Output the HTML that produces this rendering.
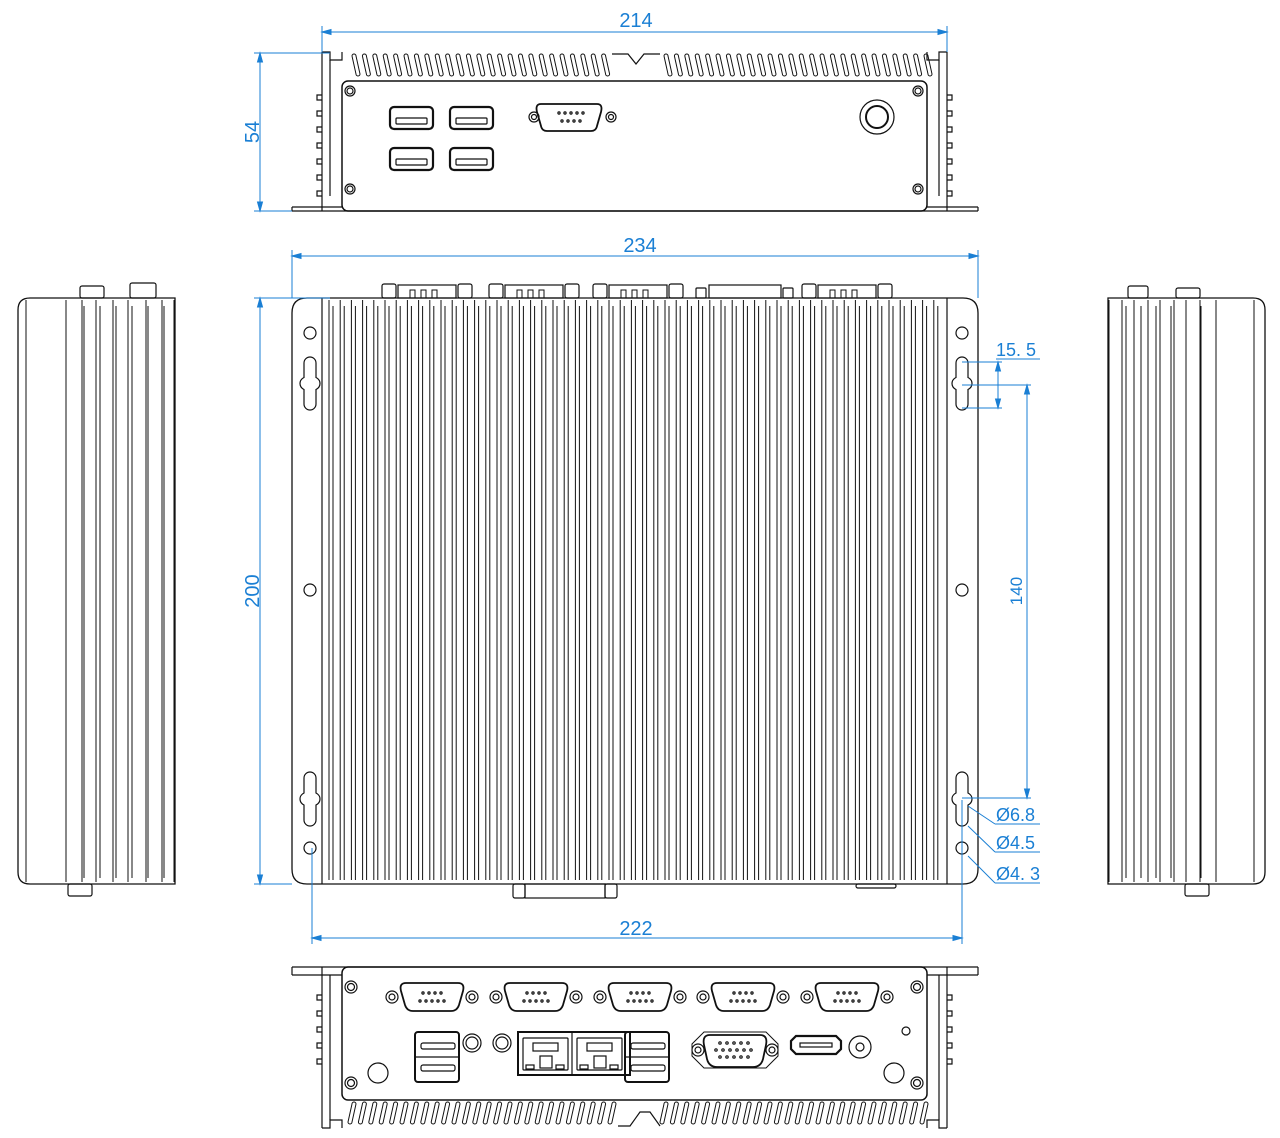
<!DOCTYPE html>
<html><head><meta charset="utf-8">
<style>
html,body{margin:0;padding:0;background:#fff;}
svg{display:block}
text{font-family:"Liberation Sans",sans-serif;fill:#1a7fd4;}
</style></head>
<body>
<svg id="s" width="1280" height="1138" viewBox="0 0 1280 1138" xmlns="http://www.w3.org/2000/svg">
<g id="k" fill="none" stroke="#111" stroke-width="1.2"></g>
<g id="b" fill="none" stroke="#1a7fd4" stroke-width="1"></g>
<g id="t" font-size="20">
<text x="636" y="27" text-anchor="middle">214</text>
<text x="640" y="252" text-anchor="middle">234</text>
<text x="636" y="935" text-anchor="middle">222</text>
<text transform="translate(259,132) rotate(-90)" text-anchor="middle">54</text>
<text transform="translate(259,591) rotate(-90)" text-anchor="middle">200</text>
<text transform="translate(1022,591) rotate(-90)" text-anchor="middle" font-size="17">140</text>
<text x="996" y="356" font-size="18">15. 5</text>
<text x="996" y="821" font-size="18">Ø6.8</text>
<text x="996" y="849" font-size="18">Ø4.5</text>
<text x="996" y="880" font-size="18">Ø4. 3</text>
</g>
</svg>
<script>
var K=document.getElementById('k'),B=document.getElementById('b'),NS='http://www.w3.org/2000/svg';
function el(g,n,a){var e=document.createElementNS(NS,n);for(var k in a)e.setAttribute(k,a[k]);g.appendChild(e);return e;}
function L(g,x1,y1,x2,y2,w){var e=el(g,'line',{x1:x1,y1:y1,x2:x2,y2:y2});if(w)e.setAttribute('stroke-width',w);}
function R(x,y,w,h,r,sw){var e=el(K,'rect',{x:x,y:y,width:w,height:h,rx:r||0});if(sw)e.setAttribute('stroke-width',sw);return e;}
function C(x,y,r,g){return el(g||K,'circle',{cx:x,cy:y,r:r});}
function P(d,g,sw){var e=el(g||K,'path',{d:d});if(sw)e.setAttribute('stroke-width',sw);return e;}
function arrow(x,y,dir){var s=9,w=2.5,d;
 if(dir=='l')d='M'+x+','+y+'l'+s+','+(-w)+'v'+(2*w)+'z';
 if(dir=='r')d='M'+x+','+y+'l'+(-s)+','+(-w)+'v'+(2*w)+'z';
 if(dir=='u')d='M'+x+','+y+'l'+(-w)+','+s+'h'+(2*w)+'z';
 if(dir=='d')d='M'+x+','+y+'l'+(-w)+','+(-s)+'h'+(2*w)+'z';
 var e=el(B,'path',{d:d});e.setAttribute('fill','#1a7fd4');}
// ===== Dimensions =====
L(B,322,32,947,32);arrow(322,32,'l');arrow(947,32,'r');L(B,322,26,322,52);L(B,947,26,947,52);
L(B,260,53,260,211);arrow(260,53,'u');arrow(260,211,'d');L(B,254,53,330,53);L(B,254,211,292,211);
L(B,292,256,978,256);arrow(292,256,'l');arrow(978,256,'r');L(B,292,250,292,298);L(B,978,250,978,298);
L(B,260,298,260,884);arrow(260,298,'u');arrow(260,884,'d');L(B,254,298,330,298);L(B,254,884,292,884);
L(B,312,938,962,938);arrow(312,938,'l');arrow(962,938,'r');L(B,312,848,312,944);L(B,962,800,962,944);
L(B,1027,385,1027,798);arrow(1027,385,'u');arrow(1027,798,'d');L(B,962,385,1031,385);L(B,962,798,1031,798);
L(B,998,362,998,408);arrow(998,362,'u');arrow(998,408,'d');L(B,962,362,1002,362);L(B,962,408,1002,408);
L(B,996,359,1040,359);
L(B,995,824,1040,824);L(B,995,824,968,806);
L(B,995,852,1040,852);L(B,995,852,968,826);
L(B,995,883,1040,883);L(B,995,883,968,856);
// ===== Top view =====
R(342,81,585,130,6,1.5);
L(K,322,52,322,211);L(K,947,52,947,211);
L(K,330,60,330,196);L(K,939,60,939,196);
P('M322,52 h8 v8 h12 v-8');P('M947,52 h-8 v8 h-12 v-8');
P('M612,54 L628,54 L636,64 L644,54 L660,54');
for(var x=352;x<925;x+=10.4){if(x>608&&x<660)continue;P('M'+x+',56 l4,18 a2,2 0 0 0 4,0 l-4,-18 a2,2 0 0 0 -4,0',K,1);}
for(var y=95;y<195;y+=16){P('M322,'+y+'h-5v5h5');P('M947,'+y+'h5v5h-5');}
L(K,292,207,342,207);L(K,292,211,978,211);L(K,292,207,292,211);L(K,927,207,978,207);L(K,978,207,978,211);
[[350,91],[350,189],[918,91],[918,189]].forEach(function(p){C(p[0],p[1],5);C(p[0],p[1],3);});
[[390,107],[450,107],[390,148],[450,148]].forEach(function(p){R(p[0],p[1],43,22,4,2.2);R(p[0]+6,p[1]+11,31,6,1);});
P('M541,104 h56 q6,0 4,8 l-4,14 q-1,5 -6,5 h-44 q-5,0 -6,-5 l-4,-14 q-2,-8 4,-8z',K,1.8);
C(534,117,5);C(534,117,2.5);C(611,117,5);C(611,117,2.5);
for(var i=0;i<5;i++)C(559+i*6,113,1.1);for(var i=0;i<4;i++)C(562+i*6,121,1.1);
C(877,117,17);C(877,117,11,K).setAttribute('stroke-width',2);
// ===== Main (plan) view =====
P('M307,298 H963 Q978,298 978,313 V869 Q978,884 963,884 H307 Q292,884 292,869 V313 Q292,298 307,298Z',K,1.3);
L(K,322,298,322,884);L(K,947,298,947,884);
for(var x=329;x<942;x+=11.2){L(K,x,300,x,880,1);L(K,x+4,306,x+4,880,1);}
function keyhole(cx,y1,y2){var m=(y1+y2)/2;P('M'+(cx-6)+','+(y1+8)+' a6,6 0 0 1 12,0 v'+(m-y1-14)+' q4,2 4,6 q0,4 -4,6 v'+(y2-m-14)+' a6,6 0 0 1 -12,0 v'+(-(y2-m-14))+' q-4,-2 -4,-6 q0,-4 4,-6z');}
[310,962].forEach(function(cx){C(cx,333,6);keyhole(cx,355,412);C(cx,590,6);keyhole(cx,770,828);C(cx,848,6);});
function topConn(x1,x2){R(x1-16,284,14,14,2);R(x1,285,x2-x1,13,0);for(var i=0;i<3;i++)R(x1+12+i*11,290,5,8,0,1);R(x2+2,284,14,14,2);}
topConn(398,456);topConn(505,563);topConn(609,667);topConn(818,876);
R(709,285,72,13,0);R(696,288,10,10,1);R(783,288,10,10,1);
R(525,884,80,14,0);R(513,884,12,14,2);R(605,884,12,14,2);R(856,884,40,4,2);
// ===== Side views =====
function side(x0,flip){
 var w=157;P(flip?'M'+x0+',298 H'+(x0+w-12)+' Q'+(x0+w)+',298 '+(x0+w)+',310 V872 Q'+(x0+w)+',884 '+(x0+w-12)+',884 H'+x0+'Z':'M'+(x0+12)+',298 H'+(x0+w)+' V884 H'+(x0+12)+' Q'+x0+',884 '+x0+',872 V310 Q'+x0+',298 '+(x0+12)+',298Z',K,1.3);
 var xs=flip?[1,14,26,40,52,66,78,92,108,146]:[8,48,64,78,95,110,128,144,156];
 xs.forEach(function(d){L(K,x0+d,300,x0+d,882,1);});
 for(var i=0;i<6;i++){var d=flip?14+i*15:62+i*16;L(K,x0+d+4,306,x0+d+4,878,1);}
}
side(18,false);side(1108,true);
R(80,286,24,12,2);R(130,283,26,15,2);R(68,884,24,12,2);
R(1128,286,20,12,2);R(1176,288,24,10,2);R(1185,884,24,12,2);
// ===== Bottom view =====
R(342,967,585,133,6,1.5);
L(K,322,967,322,1128);L(K,947,967,947,1128);L(K,330,975,330,1120);L(K,939,975,939,1120);
L(K,292,967,978,967);L(K,292,975,342,975);L(K,927,975,978,975);L(K,292,967,292,975);L(K,978,967,978,975);
for(var x=352;x<925;x+=10.4){if(x>612&&x<660)continue;P('M'+x+',1104 l-4,18 a2,2 0 0 0 4,0 l4,-18 a2,2 0 0 0 -4,0',K,1);}
P('M618,1126 L630,1126 L640,1112 L650,1112 L660,1126');
P('M322,1128 h8 v-8 h12 v8');P('M947,1128 h-8 v-8 h-12 v8');
for(var y=995;y<1075;y+=16){P('M322,'+y+'h-5v5h5');P('M947,'+y+'h5v5h-5');}
[[351,987],[351,1083],[917,987],[917,1083]].forEach(function(p){C(p[0],p[1],6);C(p[0],p[1],3.5);});
[402,506,610,713,817].forEach(function(x){
 P('M'+(x+4)+',983 h52 q7,0 5,8 l-4,14 q-2,6 -8,6 h-38 q-6,0 -8,-6 l-4,-14 q-2,-8 5,-8z',K,1.8);
 C(x-10,997,6);C(x-10,997,3);C(x+70,997,6);C(x+70,997,3);
 for(var i=0;i<4;i++)C(x+21+i*6,993,1.1);for(var i=0;i<5;i++)C(x+18+i*6,1001,1.1);});
[[415,1032],[625,1032]].forEach(function(p){R(p[0],p[1],44,50,3,2);R(p[0]+6,p[1]+11,34,6,2);R(p[0]+6,p[1]+33,34,6,2);L(K,p[0],p[1]+25,p[0]+44,p[1]+25);});
C(472,1043,9);C(472,1043,6);C(502,1043,9);C(502,1043,6);C(378,1073,10);
R(518,1032,112,43,0,2);L(K,572,1032,572,1075);
[523,577].forEach(function(x){R(x,1038,45,32,1);R(x+10,1043,25,8,0);R(x+17,1056,12,12,0);R(x+3,1065,8,4,0);R(x+33,1065,8,4,0);});
P('M710,1035 h50 q8,0 6,10 l-3,14 q-2,8 -10,8 h-36 q-8,0 -10,-8 l-3,-14 q-2,-10 6,-10z',K,1.8);
P('M704,1032 h62 l12,12 v12 l-12,12 h-62 l-12,-12 v-12z',K,1);
C(698,1050,6);C(698,1050,3);C(772,1050,6);C(772,1050,3);
for(var i=0;i<5;i++){C(720+i*7,1043,1.2);C(720+i*7,1057,1.2);}for(var i=0;i<6;i++)C(716+i*7,1050,1.2);
P('M796,1036 h40 l5,5 v8 l-5,5 h-40 l-5,-5 v-8z',K,2.2);R(800,1043,32,4,0);
C(860,1047,11);C(860,1047,4);C(906,1031,4);C(894,1073,10);
</script>
</body></html>
